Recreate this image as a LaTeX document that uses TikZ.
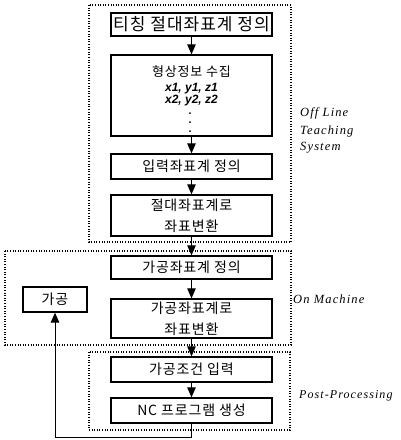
\documentclass[tikz,border=0pt]{standalone}
\usepackage{fontspec}
\usetikzlibrary{arrows.meta}
\newfontfamily\kr[LetterSpace=6]{Noto Sans CJK KR}
\newfontfamily\lab[LetterSpace=9]{Liberation Serif}
\newfontfamily\crd{Liberation Sans}
\tikzset{
  box/.style={draw, line width=1.3pt, minimum width=161pt, inner sep=0pt, align=center, font=\kr\fontsize{14}{21}\selectfont},
  zone/.style={line width=1.3pt, dash pattern=on 1pt off 1.6pt},
  arr/.style={line width=1pt, -{Triangle[length=10pt,width=8.5pt]}},
  lbl/.style={anchor=west, inner sep=0pt, font=\lab\itshape\fontsize{12.5}{13}\selectfont}
}
\begin{document}
\begin{tikzpicture}[x=1pt,y=-1pt]
\useasboundingbox (0,0) rectangle (400,440);
% zones
\draw[zone] (89,5) rectangle (291,242);
\draw[zone] (5,251) rectangle (291,345);
\draw[zone] (89,352) rectangle (290,430);
% boxes
\node[box, minimum height=23pt, font=\kr\fontsize{17}{18}\selectfont] (b1) at (191.5,24.5) {티칭 절대좌표계 정의};
\node[box, minimum height=81pt] (b2) at (191.5,95.5) {};
\node[inner sep=0pt, font=\kr\fontsize{13}{14}\selectfont] (t2a) at (191.5,72) {형상정보 수집};
\node[inner sep=0pt, font=\crd\bfseries\itshape\fontsize{12}{13}\selectfont] (t2b) at (191.5,89) {x1, y1, z1};
\node[inner sep=0pt, font=\crd\bfseries\itshape\fontsize{12}{13}\selectfont] (t2c) at (191.5,101) {x2, y2, z2};
\fill (190,113) circle (1pt) (190,122) circle (1pt) (190,131) circle (1pt);
\node[box, minimum height=25pt] (b3) at (191.5,166.5) {입력좌표계 정의};
\node[box, minimum height=41pt] (b4) at (191.5,215.5) {절대좌표계로\\좌표변환};
\node[box, minimum height=23pt] (b5) at (191.5,267.5) {가공좌표계 정의};
\node[box, minimum height=39pt] (b6) at (191.5,318.5) {가공좌표계로\\좌표변환};
\node[box, minimum height=25pt] (b7) at (191.5,369.5) {가공조건 입력};
\node[box, minimum height=25pt] (b8) at (191.5,410.5) {NC 프로그램 생성};
\node[box, minimum width=64pt, minimum height=25pt] (g) at (55,299.5) {가공};
% labels
\node[lbl] (l1) at (300,113) {Off Line};
\node[lbl] (l2) at (300,131) {Teaching};
\node[lbl] (l3) at (300,148) {System};
\node[lbl] (l4) at (293,299) {On Machine};
\node[lbl, font=\lab\itshape\fontsize{12}{13}\selectfont] (l5) at (299,396) {Post-Processing};
% arrows
\draw[arr] (b1) -- (b2);
\draw[arr] (b2) -- (b3);
\draw[arr] (b3) -- (b4);
\draw[arr] (b4) -- (b5);
\draw[arr] (b5) -- (b6);
\draw[arr] (b6) -- (b7);
\draw[arr] (b7) -- (b8);
\coordinate (c1) at (191.5,437);
\coordinate (c2) at (55,437);
\draw[arr] (b8.south) -- (c1) -- (c2) -- (g.south);
\end{tikzpicture}
\end{document}
